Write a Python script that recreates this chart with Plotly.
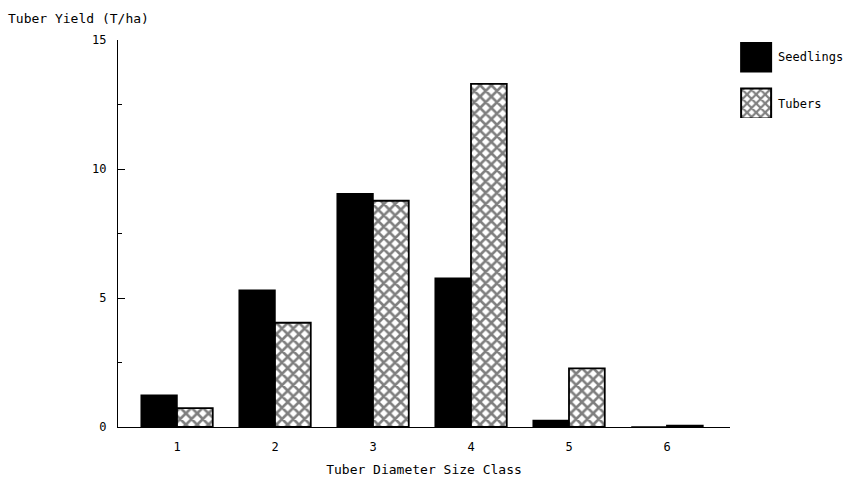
import plotly.graph_objects as go

categories = [1, 2, 3, 4, 5, 6]
tick_labels = ["1", "2", "3", "4", "5", "6"]
seedlings = [1.23, 5.3, 9.04, 5.77, 0.25, 0.0]
tubers = [0.73, 4.04, 8.77, 13.3, 2.27, 0.05]

FONT = "DejaVu Sans Mono"

fig = go.Figure()
fig.add_trace(go.Bar(
    x=categories, y=seedlings, name="Seedlings", legendgroup="s",
    marker=dict(color="black", line=dict(color="black", width=1.5)),
))
fig.add_trace(go.Bar(
    x=categories, y=tubers, name="Tubers", legendgroup="t",
    marker=dict(color="white", line=dict(color="black", width=1.8),
                pattern=dict(shape="x", fgcolor="black", bgcolor="white",
                             size=8, solidity=0.55, fillmode="overlay")),
))

fig.update_layout(
    width=867, height=483,
    margin=dict(l=118, r=137, t=40, b=56, autoexpand=False),
    paper_bgcolor="white", plot_bgcolor="white",
    barmode="group", bargap=0.27, bargroupgap=0.0,
    font=dict(family=FONT, size=12, color="black"),
    showlegend=True,
    legend=dict(x=1.01, y=0.995, xanchor="left", yanchor="top",
                font=dict(family=FONT, size=12), itemsizing="constant",
                tracegroupgap=28, bgcolor="rgba(0,0,0,0)"),
    xaxis=dict(range=[0.398, 6.643], tickvals=categories, ticktext=tick_labels,
               showline=True, linecolor="black", linewidth=1.2, ticks="",
               showgrid=False, zeroline=False, ticklabelstandoff=8,
               automargin=False,
               title=dict(text="Tuber Diameter Size Class", standoff=12,
                          font=dict(family=FONT, size=13))),
    yaxis=dict(range=[0, 15], tickvals=[0, 5, 10, 15], showline=True,
               linecolor="black", linewidth=1.2, ticks="inside", ticklen=7,
               tickcolor="black", showgrid=False, zeroline=False,
               ticklabelstandoff=8, automargin=False,
               minor=dict(ticks="inside", tickvals=[2.5, 7.5, 12.5], ticklen=4,
                          tickcolor="black", showgrid=False)),
    annotations=[dict(text="Tuber Yield (T/ha)", xref="paper", yref="paper",
                      x=-112/612, y=1.0, xanchor="left", yanchor="bottom",
                      yshift=12, showarrow=False,
                      font=dict(family=FONT, size=13))],
)

post = """
document.body.style.margin='0';
try {
  document.querySelectorAll('.legendpoints path').forEach(function(p){
    p.setAttribute('d','M15,15H-15V-15H15Z');
  });
  document.querySelectorAll('.legendtext').forEach(function(t){
    t.setAttribute('x', parseFloat(t.getAttribute('x')) + 2);
  });
} catch(e) {}
"""

fig.write_html("out.html", post_script=post,
               config={"displayModeBar": False})
